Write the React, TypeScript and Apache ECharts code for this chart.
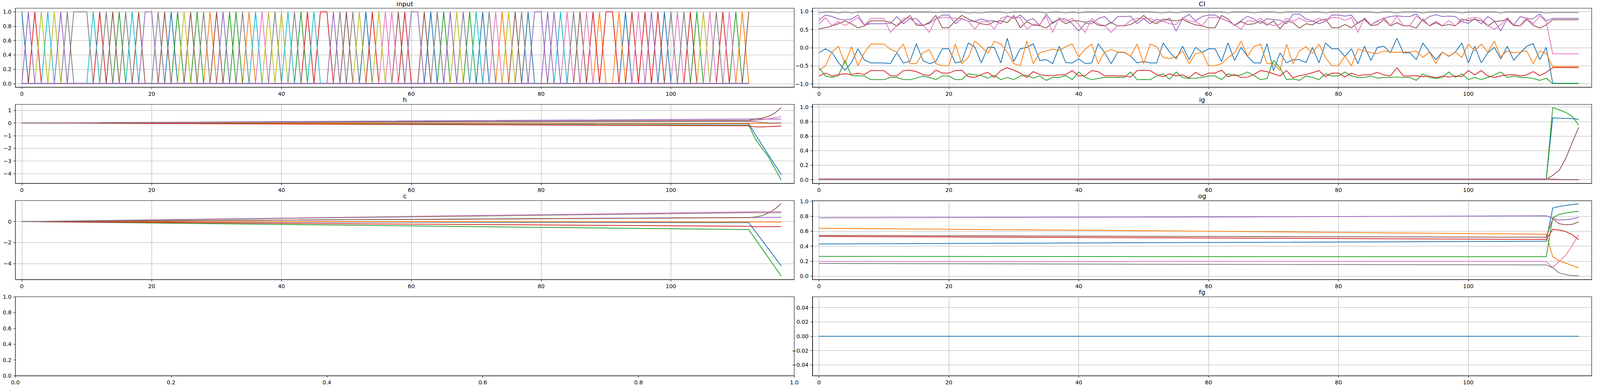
import React, { useEffect, useRef } from "react";
import * as echarts from "echarts";

// matplotlib tab10 cycle
const TAB10 = ["#1f77b4", "#ff7f0e", "#2ca02c", "#d62728", "#9467bd", "#8c564b", "#e377c2", "#7f7f7f", "#bcbd22", "#17becf"];

// ---- input: active one-hot feature per step (colour = TAB10[id % 10]) ----
const INPUT_SEQ = [
  0, 4, 3, 8, 9, 8, 4, 7, 17, 17,
  17, 9, 3, 7, 5, 2, 7, 9, 5, 4,
  4, 7, 5, 0, 2, 8, 5, 2, 7, 1,
  5, 4, 2, 12, 7, 1, 9, 6, 8, 7,
  8, 9, 7, 2, 3, 9, 3, 3, 4, 7,
  5, 7, 8, 0, 3, 8, 6, 16, 5, 3,
  4, 4, 5, 0, 7, 2, 4, 8, 7, 2,
  9, 0, 7, 6, 1, 8, 5, 7, 0, 4,
  4, 14, 4, 9, 6, 7, 5, 6, 3, 1,
  3, 3, 1, 0, 3, 6, 3, 4, 3, 0,
  7, 6, 7, 3, 2, 8, 6, 7, 3, 6,
  2, 1, 5,
];
// drawing order of the feature lines (last one sits on top of the zero line)
const INPUT_FEATURES = [0, 1, 2, 3, 5, 6, 7, 8, 9, 12, 16, 17, 14, 4];

// ---- CI (one value per step, 0..117) ----
const CI_BLUE = [
  -0.14, -0.03, -0.13, -0.41, -0.62, -0.41, -0.03, -0.34, -0.42, -0.42,
  -0.42, -0.44, -0.14, -0.42, -0.38, 0.11, -0.35, -0.44, -0.38, -0.03,
  -0.03, -0.42, -0.38, 0.13, 0.02, -0.42, 0.01, 0.01, -0.42, 0.26,
  -0.38, -0.03, 0.01, 0.11, -0.35, -0.33, -0.44, 0.04, -0.41, -0.42,
  -0.31, -0.44, -0.42, 0.11, -0.14, -0.44, -0.13, -0.13, -0.23, -0.42,
  -0.38, -0.42, -0.42, 0.13, -0.12, -0.31, 0.04, -0.33, 0.01, -0.13,
  -0.03, -0.03, -0.38, 0.13, -0.35, 0.01, -0.24, -0.42, -0.42, 0.11,
  -0.63, -0.14, -0.42, -0.33, -0.33, -0.41, 0.01, -0.42, 0.13, -0.03,
  -0.03, -0.24, -0.03, -0.44, 0.04, -0.35, 0.01, 0.04, -0.14, 0.26,
  -0.14, -0.14, -0.33, 0.13, -0.11, -0.33, -0.12, -0.24, -0.12, 0.13,
  -0.42, 0.04, -0.42, -0.14, 0.01, -0.31, 0.04, -0.35, -0.14, 0.04,
  0.11, -0.33, 0.01, -0.98, -0.98, -0.98, -0.98, -0.98,
];
const CI_ORANGE = [
  -0.63, -0.5, -0.12, 0.04, -0.44, 0.03, -0.5, -0.13, 0.1, 0.1,
  0.1, -0.04, -0.12, 0.1, -0.44, -0.44, -0.14, -0.05, -0.44, -0.5,
  -0.5, 0.1, -0.44, -0.27, 0.18, 0.03, -0.16, 0.18, 0.1, -0.12,
  -0.44, -0.5, 0.18, -0.44, -0.14, -0.09, -0.04, -0.08, 0.03, 0.1,
  -0.25, -0.04, 0.1, -0.44, -0.12, -0.05, -0.12, -0.12, -0.23, 0.1,
  -0.44, 0.1, 0.03, -0.27, -0.3, -0.25, -0.09, -0.44, -0.16, -0.12,
  -0.5, -0.5, -0.44, -0.27, -0.14, 0.18, -0.23, 0.03, 0.1, -0.44,
  -0.44, -0.63, 0.1, -0.44, -0.09, 0.03, -0.16, 0.1, -0.27, -0.5,
  -0.5, -0.23, -0.5, -0.04, -0.09, -0.14, -0.16, -0.09, -0.12, -0.13,
  -0.12, -0.12, -0.09, -0.27, -0.12, -0.44, -0.12, -0.23, -0.12, -0.27,
  0.1, -0.09, 0.1, -0.12, 0.18, -0.25, -0.09, -0.14, -0.12, -0.09,
  -0.44, -0.09, -0.16, -0.52, -0.52, -0.52, -0.52, -0.52,
];
const CI_GREEN = [
  -0.55, -0.78, -0.82, -0.77, -0.35, -0.77, -0.78, -0.78, -0.88, -0.88,
  -0.88, -0.82, -0.82, -0.88, -0.88, -0.84, -0.78, -0.82, -0.88, -0.78,
  -0.78, -0.88, -0.88, -0.72, -0.75, -0.77, -0.84, -0.76, -0.88, -0.82,
  -0.88, -0.78, -0.76, -0.84, -0.78, -0.9, -0.82, -0.82, -0.77, -0.88,
  -0.67, -0.82, -0.88, -0.85, -0.82, -0.82, -0.82, -0.82, -0.67, -0.88,
  -0.88, -0.88, -0.78, -0.72, -0.87, -0.67, -0.82, -0.85, -0.84, -0.82,
  -0.78, -0.78, -0.88, -0.72, -0.77, -0.75, -0.67, -0.77, -0.88, -0.85,
  -0.35, -0.56, -0.88, -0.86, -0.9, -0.78, -0.82, -0.88, -0.72, -0.78,
  -0.78, -0.67, -0.78, -0.82, -0.82, -0.78, -0.84, -0.82, -0.82, -0.81,
  -0.82, -0.82, -0.9, -0.72, -0.82, -0.85, -0.82, -0.67, -0.82, -0.72,
  -0.88, -0.82, -0.88, -0.82, -0.75, -0.67, -0.82, -0.78, -0.82, -0.82,
  -0.85, -0.9, -0.84, -0.99, -0.99, -0.99, -0.99, -0.99,
];
const CI_RED = [
  -0.78, -0.7, -0.78, -0.74, -0.72, -0.74, -0.7, -0.74, -0.63, -0.63,
  -0.63, -0.77, -0.78, -0.63, -0.62, -0.66, -0.74, -0.77, -0.62, -0.7,
  -0.7, -0.63, -0.62, -0.8, -0.82, -0.74, -0.68, -0.82, -0.63, -0.55,
  -0.62, -0.7, -0.82, -0.66, -0.74, -0.77, -0.77, -0.75, -0.74, -0.63,
  -0.78, -0.77, -0.63, -0.66, -0.78, -0.77, -0.78, -0.78, -0.81, -0.63,
  -0.62, -0.63, -0.74, -0.8, -0.72, -0.78, -0.75, -0.83, -0.68, -0.78,
  -0.7, -0.7, -0.62, -0.8, -0.74, -0.82, -0.81, -0.74, -0.63, -0.66,
  -0.72, -0.78, -0.63, -0.83, -0.77, -0.74, -0.69, -0.63, -0.8, -0.7,
  -0.7, -0.81, -0.7, -0.77, -0.75, -0.74, -0.68, -0.75, -0.78, -0.55,
  -0.78, -0.78, -0.77, -0.8, -0.78, -0.83, -0.78, -0.81, -0.78, -0.8,
  -0.63, -0.75, -0.63, -0.78, -0.82, -0.78, -0.75, -0.74, -0.78, -0.75,
  -0.66, -0.77, -0.68, -0.55, -0.55, -0.55, -0.55, -0.55,
];
const CI_PURPLE = [
  0.76, 0.9, 0.86, 0.79, 0.77, 0.79, 0.9, 0.63, 0.66, 0.66,
  0.66, 0.67, 0.86, 0.66, 0.8, 0.8, 0.62, 0.67, 0.8, 0.9,
  0.9, 0.66, 0.8, 0.73, 0.73, 0.79, 0.74, 0.74, 0.66, 0.88,
  0.8, 0.9, 0.74, 0.8, 0.62, 0.93, 0.67, 0.8, 0.79, 0.66,
  0.46, 0.67, 0.66, 0.8, 0.86, 0.67, 0.86, 0.86, 0.87, 0.66,
  0.8, 0.66, 0.79, 0.73, 0.82, 0.46, 0.81, 0.92, 0.74, 0.86,
  0.9, 0.9, 0.8, 0.73, 0.62, 0.74, 0.87, 0.79, 0.66, 0.8,
  0.77, 0.76, 0.66, 0.92, 0.93, 0.79, 0.74, 0.66, 0.73, 0.9,
  0.9, 0.87, 0.9, 0.67, 0.8, 0.63, 0.74, 0.81, 0.86, 0.88,
  0.86, 0.86, 0.93, 0.73, 0.86, 0.91, 0.86, 0.87, 0.86, 0.72,
  0.67, 0.8, 0.66, 0.86, 0.74, 0.46, 0.81, 0.63, 0.86, 0.8,
  0.8, 0.93, 0.74, 0.81, 0.81, 0.81, 0.81, 0.81,
];
const CI_BROWN = [
  0.52, 0.55, 0.6, 0.66, 0.74, 0.66, 0.55, 0.6, 0.74, 0.74,
  0.74, 0.7, 0.6, 0.74, 0.89, 0.62, 0.61, 0.7, 0.89, 0.55,
  0.55, 0.74, 0.89, 0.79, 0.72, 0.66, 0.63, 0.72, 0.74, 0.69,
  0.89, 0.55, 0.72, 0.62, 0.61, 0.54, 0.7, 0.78, 0.66, 0.74,
  0.74, 0.7, 0.74, 0.62, 0.6, 0.7, 0.6, 0.6, 0.64, 0.74,
  0.89, 0.74, 0.66, 0.79, 0.76, 0.74, 0.78, 0.69, 0.63, 0.6,
  0.55, 0.55, 0.89, 0.79, 0.61, 0.72, 0.64, 0.66, 0.74, 0.62,
  0.74, 0.52, 0.74, 0.69, 0.54, 0.66, 0.63, 0.74, 0.79, 0.55,
  0.55, 0.64, 0.55, 0.69, 0.78, 0.61, 0.63, 0.78, 0.6, 0.69,
  0.6, 0.6, 0.54, 0.79, 0.6, 0.69, 0.6, 0.64, 0.6, 0.79,
  0.75, 0.78, 0.75, 0.6, 0.72, 0.74, 0.78, 0.61, 0.6, 0.78,
  0.62, 0.54, 0.63, 0.77, 0.77, 0.77, 0.77, 0.77,
];
const CI_PINK = [
  0.65, 0.83, 0.61, 0.72, 0.61, 0.72, 0.83, 0.62, 0.81, 0.81,
  0.81, 0.42, 0.61, 0.81, 0.81, 0.66, 0.64, 0.42, 0.8, 0.83,
  0.83, 0.81, 0.81, 0.73, 0.51, 0.72, 0.72, 0.51, 0.81, 0.86,
  0.82, 0.83, 0.51, 0.65, 0.64, 0.87, 0.42, 0.83, 0.72, 0.81,
  0.64, 0.42, 0.81, 0.66, 0.61, 0.42, 0.61, 0.61, 0.75, 0.81,
  0.81, 0.81, 0.72, 0.73, 0.66, 0.64, 0.83, 0.73, 0.72, 0.61,
  0.83, 0.83, 0.81, 0.73, 0.63, 0.51, 0.75, 0.72, 0.81, 0.66,
  0.61, 0.65, 0.81, 0.73, 0.82, 0.72, 0.72, 0.81, 0.73, 0.83,
  0.83, 0.75, 0.83, 0.42, 0.83, 0.63, 0.72, 0.83, 0.61, 0.86,
  0.61, 0.61, 0.87, 0.73, 0.61, 0.73, 0.61, 0.75, 0.61, 0.73,
  0.81, 0.83, 0.81, 0.61, 0.51, 0.63, 0.83, 0.63, 0.61, 0.83,
  0.66, 0.87, 0.72, -0.17, -0.17, -0.17, -0.17, -0.17,
];
const CI_GRAY = [
  0.96, 0.98, 0.98, 0.96, 0.98, 0.96, 0.98, 0.98, 0.98, 0.98,
  0.98, 0.98, 0.98, 0.98, 0.98, 0.98, 0.98, 0.98, 0.97, 0.98,
  0.98, 0.98, 0.98, 0.96, 0.97, 0.96, 0.98, 0.98, 0.98, 0.96,
  0.98, 0.98, 0.98, 0.98, 0.98, 0.96, 0.98, 0.98, 0.96, 0.98,
  0.96, 0.98, 0.98, 0.98, 0.97, 0.98, 0.98, 0.98, 0.98, 0.98,
  0.98, 0.98, 0.97, 0.96, 0.98, 0.96, 0.98, 0.98, 0.98, 0.98,
  0.98, 0.98, 0.98, 0.96, 0.98, 0.98, 0.98, 0.96, 0.98, 0.98,
  0.98, 0.96, 0.98, 0.98, 0.98, 0.97, 0.98, 0.98, 0.96, 0.98,
  0.98, 0.98, 0.98, 0.98, 0.98, 0.98, 0.96, 0.98, 0.98, 0.96,
  0.98, 0.98, 0.98, 0.96, 0.98, 0.98, 0.98, 0.98, 0.98, 0.96,
  0.98, 0.98, 0.98, 0.98, 0.98, 0.96, 0.98, 0.98, 0.98, 0.98,
  0.98, 0.98, 0.96, 0.97, 0.97, 0.97, 0.97, 0.97,
];

// ---- h, ig, c, og, fg: [step, value] readings ----
const H_BLUE = [[0, 0], [112, -0.07], [113, -0.9], [114, -1.7], [115, -2.5], [116, -3.3], [117, -4.07]];
const H_ORANGE = [[0, 0], [112, -0.03], [117, -0.03]];
const H_GREEN = [[0, 0], [112, -0.18], [113, -1.26], [114, -1.98], [115, -2.65], [116, -3.58], [117, -4.5]];
const H_RED = [[0, 0], [112, -0.22], [113, -0.31], [114, -0.31], [115, -0.29], [116, -0.26], [117, -0.24]];
const H_PURPLE = [[0, 0], [112, 0.31], [117, 0.31]];
const H_BROWN = [[0, 0], [112, 0.21], [113, 0.32], [114, 0.37], [115, 0.52], [116, 0.78], [117, 1.21]];
const H_PINK = [[0, 0], [112, 0.16], [113, 0.2], [114, 0.26], [115, 0.34], [116, 0.42], [117, 0.52]];
const H_GRAY = [[0, 0], [112, 0.13], [113, 0.11], [114, 0.05], [115, 0.01], [116, 0.0], [117, 0.0]];

const IG_BLUE = [[0, 0.003], [112, 0.003], [113, 0.85], [114, 0.845], [115, 0.843], [116, 0.84], [117, 0.83]];
const IG_ORANGE = [[0, 0.002], [112, 0.002], [117, 0.0]];
const IG_GREEN = [[0, 0.004], [112, 0.004], [113, 0.99], [114, 0.96], [115, 0.925], [116, 0.87], [117, 0.75]];
const IG_RED = [[0, 0.003], [112, 0.003], [117, 0.002]];
const IG_PURPLE = [[0, 0.01], [112, 0.01], [113, 0.008], [114, 0.004], [115, 0.002], [117, 0.001]];
const IG_BROWN = [[0, 0.006], [112, 0.006], [113, 0.06], [114, 0.13], [115, 0.29], [116, 0.51], [117, 0.72]];
const IG_PINK = [[0, 0.013], [112, 0.013], [113, 0.012], [114, 0.006], [115, 0.003], [117, 0.002]];
const IG_GRAY = [[0, 0.005], [112, 0.005], [113, 0.003], [117, 0.002]];

const C_BLUE = [[0, 0], [112, -0.1], [117, -4.23]];
const C_ORANGE = [[0, 0], [112, -0.03], [117, -0.04]];
const C_GREEN = [[0, 0], [112, -0.77], [117, -5.2]];
const C_RED = [[0, 0], [112, -0.45], [113, -0.49], [117, -0.48]];
const C_PURPLE = [[0, 0], [112, 0.39], [117, 0.41]];
const C_BROWN = [[0, 0], [112, 0.38], [113, 0.43], [114, 0.56], [115, 0.8], [116, 1.18], [117, 1.7]];
const C_PINK = [[0, 0], [112, 0.93], [113, 0.95], [117, 0.95]];
const C_GRAY = [[0, 0], [112, 0.84], [117, 0.84]];

const OG_BLUE = [[0, 0.43], [60, 0.45], [112, 0.466], [113, 0.91], [114, 0.93], [115, 0.944], [116, 0.957], [117, 0.963]];
const OG_ORANGE = [[0, 0.64], [60, 0.6], [112, 0.56], [113, 0.26], [114, 0.205], [115, 0.174], [116, 0.143], [117, 0.113]];
const OG_GREEN = [[0, 0.264], [112, 0.26], [113, 0.78], [114, 0.826], [115, 0.843], [116, 0.856], [117, 0.866]];
const OG_RED = [[0, 0.53], [60, 0.51], [112, 0.49], [113, 0.626], [114, 0.616], [115, 0.595], [116, 0.553], [117, 0.487]];
const OG_PURPLE = [[0, 0.78], [60, 0.79], [112, 0.805], [113, 0.774], [114, 0.748], [115, 0.755], [116, 0.765], [117, 0.786]];
const OG_BROWN = [[0, 0.545], [60, 0.53], [112, 0.52], [113, 0.765], [114, 0.7], [115, 0.685], [116, 0.692], [117, 0.725]];
const OG_PINK = [[0, 0.198], [112, 0.197], [113, 0.113], [114, 0.195], [115, 0.278], [116, 0.409], [117, 0.553]];
const OG_GRAY = [[0, 0.17], [60, 0.158], [112, 0.151], [113, 0.113], [114, 0.043], [115, 0.021], [116, 0.009], [117, 0.005]];

const FG_BLUE = [[0, 0], [117, 0]];

// ---- ticks ----
const STEP_TICKS = [0, 20, 40, 60, 80, 100];
const UNIT_TICKS = [0, 0.2, 0.4, 0.6, 0.8, 1];
const CI_TICKS = [-1, -0.5, 0, 0.5, 1];
const H_TICKS = [-4, -3, -2, -1, 0, 1];
const C_TICKS = [-4, -2, 0];
const FG_TICKS = [-0.04, -0.02, 0, 0.02, 0.04];

// ---- layout, in px of the 5000x1000 reference (scaled to the real viewport) ----
const REF_W = 5000;
const REF_H = 1000;
const COL_X = [48, 2539];
const COL_W = [2434, 2435];
const ROW_Y = [21, 267, 513, 759];
const ROW_H = 202;
const FONT = "DejaVu Sans";

const withSteps = (vals: number[]) => vals.map((v, t) => [t, v]);

type Panel = {
  title: string;
  col: number;
  row: number;
  xMin: number;
  xMax: number;
  xTicks: number[];
  xDigits: number;
  yMin: number;
  yMax: number;
  yTicks: number[];
  yDigits: number;
  grid: boolean;
  lines: { color: string; data: number[][] }[];
};

const eight = (arrs: number[][][]) => arrs.map((data, i) => ({ color: TAB10[i], data }));

const inputLines = INPUT_FEATURES.map((id) => ({
  color: TAB10[id % 10],
  data: INPUT_SEQ.map((f, t) => [t, f === id ? 1 : 0]),
}));

const PANELS: Panel[] = [
  { title: "input", col: 0, row: 0, xMin: -1, xMax: 119, xTicks: STEP_TICKS, xDigits: 0, yMin: -0.05, yMax: 1.05, yTicks: UNIT_TICKS, yDigits: 1, grid: true, lines: inputLines },
  {
    title: "CI", col: 1, row: 0, xMin: -1, xMax: 119, xTicks: STEP_TICKS, xDigits: 0, yMin: -1.089, yMax: 1.089, yTicks: CI_TICKS, yDigits: 1, grid: true,
    lines: eight([CI_BLUE, CI_ORANGE, CI_GREEN, CI_RED, CI_PURPLE, CI_BROWN, CI_PINK, CI_GRAY].map(withSteps)),
  },
  {
    title: "h", col: 0, row: 1, xMin: -1, xMax: 119, xTicks: STEP_TICKS, xDigits: 0, yMin: -4.77, yMax: 1.47, yTicks: H_TICKS, yDigits: 0, grid: true,
    lines: eight([H_BLUE, H_ORANGE, H_GREEN, H_RED, H_PURPLE, H_BROWN, H_PINK, H_GRAY]),
  },
  {
    title: "ig", col: 1, row: 1, xMin: -1, xMax: 119, xTicks: STEP_TICKS, xDigits: 0, yMin: -0.05, yMax: 1.035, yTicks: UNIT_TICKS, yDigits: 1, grid: true,
    lines: eight([IG_BLUE, IG_ORANGE, IG_GREEN, IG_RED, IG_PURPLE, IG_BROWN, IG_PINK, IG_GRAY]),
  },
  {
    title: "c", col: 0, row: 2, xMin: -1, xMax: 119, xTicks: STEP_TICKS, xDigits: 0, yMin: -5.53, yMax: 2.0, yTicks: C_TICKS, yDigits: 0, grid: true,
    lines: eight([C_BLUE, C_ORANGE, C_GREEN, C_RED, C_PURPLE, C_BROWN, C_PINK, C_GRAY]),
  },
  {
    title: "og", col: 1, row: 2, xMin: -1, xMax: 119, xTicks: STEP_TICKS, xDigits: 0, yMin: -0.045, yMax: 1.009, yTicks: UNIT_TICKS, yDigits: 1, grid: true,
    lines: eight([OG_BLUE, OG_ORANGE, OG_GREEN, OG_RED, OG_PURPLE, OG_BROWN, OG_PINK, OG_GRAY]),
  },
  { title: "", col: 0, row: 3, xMin: 0, xMax: 1, xTicks: UNIT_TICKS, xDigits: 1, yMin: 0, yMax: 1, yTicks: UNIT_TICKS, yDigits: 1, grid: false, lines: [] },
  { title: "fg", col: 1, row: 3, xMin: -1, xMax: 119, xTicks: STEP_TICKS, xDigits: 0, yMin: -0.055, yMax: 0.055, yTicks: FG_TICKS, yDigits: 2, grid: true, lines: [{ color: TAB10[0], data: FG_BLUE }] },
];

const fmt = (digits: number) => (v: number) => {
  const s = Math.abs(v) < 1e-9 ? (0).toFixed(digits) : v.toFixed(digits);
  return s.replace("-", "\u2212");
};

const axisCommon = (ticks: number[], digits: number, showGrid: boolean) => ({
  axisLine: { show: true, onZero: false, lineStyle: { color: "#000", width: 1.1 } },
  axisTick: { show: true, inside: false, length: 5, customValues: ticks, lineStyle: { color: "#000", width: 1.1 } },
  axisLabel: { customValues: ticks, formatter: fmt(digits), color: "#000", fontFamily: FONT, fontSize: 13.9, margin: 10 },
  splitLine: { show: showGrid, lineStyle: { color: "#b0b0b0", width: 1.1 } },
});

const App: React.FC = () => {
  const chartRef = useRef<HTMLDivElement | null>(null);

  useEffect(() => {
    const el = chartRef.current;
    if (!el) return;
    const chart = echarts.init(el, null, { renderer: "svg" });

    // the window may be narrower than asked for: keep the figure's proportions
    const sx = (el.clientWidth || REF_W) / REF_W;
    const sy = (el.clientHeight || REF_H) / REF_H;

    const option: any = {
      animation: false,
      backgroundColor: "#fff",
      title: PANELS.filter((p) => p.title).map((p) => ({
        text: p.title,
        left: (COL_X[p.col] + COL_W[p.col] / 2) * sx,
        top: Math.max(1, ROW_Y[p.row] * sy - 21),
        textAlign: "center",
        padding: 0,
        textStyle: { fontFamily: FONT, fontSize: 16.7, fontWeight: "normal", color: "#000" },
      })),
      grid: PANELS.map((p) => ({
        left: COL_X[p.col] * sx,
        top: ROW_Y[p.row] * sy,
        width: COL_W[p.col] * sx,
        height: ROW_H * sy,
        show: true,
        borderColor: "#000",
        borderWidth: 1.1,
        backgroundColor: "transparent",
        containLabel: false,
        outerBoundsMode: "none",
      })),
      xAxis: PANELS.map((p, i) => ({
        type: "value",
        gridIndex: i,
        min: p.xMin,
        max: p.xMax,
        ...axisCommon(p.xTicks, p.xDigits, p.grid),
      })),
      yAxis: PANELS.map((p, i) => ({
        type: "value",
        gridIndex: i,
        min: p.yMin,
        max: p.yMax,
        ...axisCommon(p.yTicks, p.yDigits, p.grid),
      })),
      series: PANELS.flatMap((p, i) =>
        p.lines.map((ln) => ({
          type: "line",
          xAxisIndex: i,
          yAxisIndex: i,
          data: ln.data,
          symbol: "none",
          showSymbol: false,
          silent: true,
          clip: true,
          lineStyle: { color: ln.color, width: 2 },
          itemStyle: { color: ln.color },
        }))
      ),
    };

    chart.setOption(option);
    return () => chart.dispose();
  }, []);

  return (
    <div
      ref={chartRef}
      style={{ position: "fixed", left: 0, top: 0, width: "100vw", height: "100vh", background: "#fff" }}
    />
  );
};

export default App;
